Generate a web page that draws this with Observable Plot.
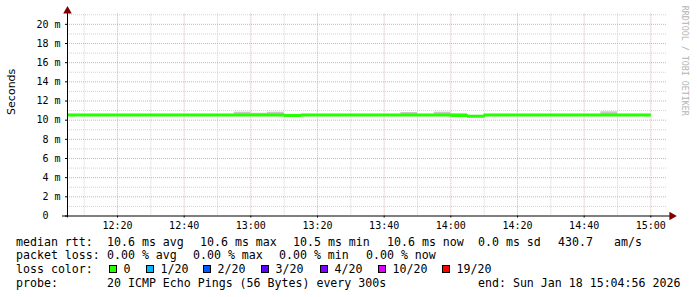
<!DOCTYPE html>
<html>
<head>
<meta charset="utf-8">
<script src="https://cdn.jsdelivr.net/npm/d3@7"></script>
<script src="https://cdn.jsdelivr.net/npm/@observablehq/plot@0.6"></script>
<style>
  html, body { margin: 0; padding: 0; background: #fff; }
  #wrap { position: relative; width: 697px; height: 297px; background: #fff; overflow: hidden; }
  #chart { position: absolute; left: 0; top: 0; }
  .lg { position: absolute; font-family: "DejaVu Sans Mono", monospace; font-size: 11.6px; line-height: 14px; color: #000; white-space: pre; }
  .box { position: absolute; width: 8px; height: 8px; box-sizing: border-box; border: 1px solid #000; }
</style>
</head>
<body>
<div id="wrap"><div id="chart"></div></div>
<script>
// ---------- data ----------
const sampleTimes = ["12:05","12:10","12:15","12:20","12:25","12:30","12:35","12:40","12:45","12:50",
  "12:55","13:00","13:05","13:10","13:15","13:20","13:25","13:30","13:35","13:40",
  "13:45","13:50","13:55","14:00","14:05","14:10","14:15","14:20","14:25","14:30",
  "14:35","14:40","14:45","14:50","14:55"];
const endTime = "15:00";
// median rtt per 5-minute interval (ms)
const medianRtt = [10.55,10.55,10.55,10.55,10.55,10.55,10.55,10.55,10.55,10.55,
  10.55,10.55,10.55,10.5,10.55,10.55,10.55,10.55,10.55,10.55,
  10.55,10.55,10.55,10.5,10.42,10.55,10.55,10.55,10.55,10.55,
  10.55,10.55,10.55,10.55,10.55];
// ping spread ("smoke") per interval (ms)
const smokeLo = [10.5,10.5,10.5,10.5,10.5,10.5,10.5,10.5,10.5,10.5,
  10.5,10.5,10.5,10.45,10.5,10.5,10.5,10.5,10.5,10.5,
  10.5,10.5,10.5,10.45,10.35,10.5,10.5,10.5,10.5,10.5,
  10.5,10.5,10.5,10.5,10.5];
const smokeHi = [10.6,10.6,10.6,10.6,10.6,10.6,10.6,10.6,10.6,10.6,
  10.83,10.72,10.83,10.6,10.6,10.6,10.6,10.6,10.6,10.6,
  10.8,10.6,10.83,10.7,10.5,10.6,10.6,10.6,10.6,10.6,
  10.6,10.6,10.87,10.6,10.6];
const xMajorTicks = ["12:20","12:40","13:00","13:20","13:40","14:00","14:20","14:40","15:00"];
const xMinorTicks = ["12:10","12:30","12:50","13:10","13:30","13:50","14:10","14:30","14:50"];
const yMajorTicks = [0,2,4,6,8,10,12,14,16,18,20];
const yMinorTicks = [1,3,5,7,9,11,13,15,17,19,21];
const yLabel = "Seconds";
const watermark = "RRDTOOL / TOBI OETIKER";
const domainStart = "12:05", domainEnd = "15:05";

const statsRows = [
  ["median rtt:", "10.6 ms avg", "10.6 ms max", "10.5 ms min", "10.6 ms now", "0.0 ms sd", "430.7", "am/s"],
  ["packet loss:", "0.00 % avg", "0.00 % max", "0.00 % min", "0.00 % now"],
  ["probe:", "20 ICMP Echo Pings (56 Bytes) every 300s", "end: Sun Jan 18 15:04:56 2026"]
];
const lossTitle = "loss color:";
const lossLabels = ["0","1/20","2/20","3/20","4/20","10/20","19/20"];
const lossColors = ["#26ff00","#00b8ff","#0059ff","#5e00ff","#7e00ff","#dd00ff","#ff0000"];

// ---------- layout (separate from data) ----------
const statsX = [
  [16, 107, 200, 293, 387, 478, 558, 614],
  [16, 107, 193, 279, 366],
  [16, 107, 478]
];
const statsY = [235, 248, 276];
const lossY = 262;
const lossBoxX = [109, 146, 203, 261, 320, 378, 442];

// ---------- helpers ----------
const T = s => { const [h, m] = s.split(":").map(Number); return new Date(Date.UTC(2026, 0, 18, h, m)); };
const rows = sampleTimes.map((s, i) => ({t: T(s), t2: i + 1 < sampleTimes.length ? T(sampleTimes[i + 1]) : T(endTime), v: medianRtt[i], lo: smokeLo[i], hi: smokeHi[i]}));
const lineRows = rows.map(d => ({t: d.t, v: d.v})).concat([{t: T(endTime), v: medianRtt[medianRtt.length - 1]}]);

const x0 = T(domainStart), x1 = T(domainEnd);
const minute = 60000;
const yMax = 21.1;

const minorColor = "#d2d2d2";
const majorColor = "#e8a8a8";

const chart = Plot.plot({
  width: 697,
  height: 232,
  marginLeft: 67,
  marginRight: 30,
  marginTop: 13.3,
  marginBottom: 16.5,
  style: {fontFamily: "DejaVu Sans Mono", fontSize: "10px", background: "transparent", color: "#000", overflow: "visible"},
  x: {type: "utc", domain: [x0, x1], axis: null},
  y: {domain: [0, yMax], axis: null},
  marks: [
    Plot.ruleY(yMinorTicks, {stroke: minorColor, strokeDasharray: "1,1"}),
    Plot.ruleX(xMinorTicks.map(T), {stroke: minorColor, strokeDasharray: "1,1"}),
    Plot.ruleY(yMajorTicks.filter(d => d > 0), {stroke: majorColor, strokeDasharray: "1,1"}),
    Plot.ruleX(xMajorTicks.map(T), {stroke: majorColor, strokeDasharray: "1,1"}),
    Plot.rect(rows, {x1: "t", x2: "t2", y1: "lo", y2: "hi", fill: "#c8c8c8"}),
    Plot.line(lineRows, {x: "t", y: "v", curve: "step-after", stroke: "#26ff00", strokeWidth: 3, strokeLinecap: "butt", strokeLinejoin: "miter"}),
    // axis lines
    Plot.ruleY([0], {x1: new Date(+x0 - 1.5 * minute), x2: new Date(+x1 + 1.2 * minute), stroke: "#000", strokeWidth: 1}),
    Plot.ruleX([x0], {y1: -0.2, y2: yMax + 0.3, stroke: "#000", strokeWidth: 1}),
    // arrows
    Plot.dot([0], {x: () => x0, y: () => yMax + 0.3, symbol: "triangle", r: 3.2, fill: "#800000", stroke: "none"}),
    Plot.dot([0], {x: () => new Date(+x1 + 1.3 * minute), y: () => 0, symbol: "triangle", r: 3.2, rotate: 90, fill: "#800000", stroke: "none"}),
    // axes
    Plot.axisX({ticks: xMajorTicks.map(T), tickFormat: d3.utcFormat("%H:%M"), tickSize: 2, tickPadding: 3.5, stroke: "#000"}),
    Plot.axisY({ticks: yMajorTicks, tickFormat: d => d === 0 ? "0\u00a0\u00a0" : d + "\u00a0m", tickSize: 2, tickPadding: 5}),
    Plot.text([yLabel], {frameAnchor: "left", dx: -56, rotate: -90, text: d => d, fontFamily: "DejaVu Sans", fontSize: 11, fill: "#000"}),
    Plot.text([watermark], {frameAnchor: "top-right", textAnchor: "middle", dx: 20, dy: 47, rotate: 90, text: d => d, fontFamily: "DejaVu Sans Mono", fontSize: 8.3, fill: "#b4b4b4"})
  ]
});
const wrap = document.getElementById("wrap");
document.getElementById("chart").appendChild(chart);

// ---------- legend ----------
function addText(txt, x, y) {
  const s = document.createElement("div");
  s.className = "lg";
  s.textContent = txt;
  s.style.left = x + "px";
  s.style.top = y + "px";
  wrap.appendChild(s);
}
statsRows.forEach((row, r) => row.forEach((txt, i) => addText(txt, statsX[r][i], statsY[r])));
addText(lossTitle, 16, lossY);
lossLabels.forEach((lab, i) => {
  const b = document.createElement("div");
  b.className = "box";
  b.style.left = lossBoxX[i] + "px";
  b.style.top = (lossY + 3) + "px";
  b.style.background = lossColors[i];
  wrap.appendChild(b);
  addText(lab, lossBoxX[i] + 14.5, lossY);
});
</script>
</body>
</html>
